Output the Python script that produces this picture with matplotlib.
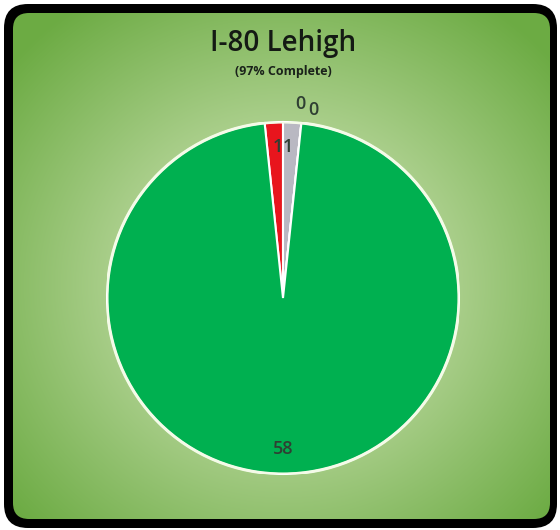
import matplotlib
matplotlib.use("Agg")
import matplotlib.pyplot as plt
from matplotlib.patches import FancyBboxPatch
import numpy as np

# chart data
title = "I-80 Lehigh"
subtitle = "(97% Complete)"
categories = ["Behind", "At Risk", "Not Started", "Other", "Complete"]
values = [1, 1, 0, 0, 58]
colors = ["#e8151d", "#b9b8c2", "#7f7f7f", "#4f81bd", "#00b050"]

W, H = 560, 530
fig = plt.figure(figsize=(W / 100, H / 100), dpi=100)
fig.patch.set_facecolor("white")

# background panel in pixel coords
bg = fig.add_axes([0, 0, 1, 1])
bg.set_xlim(0, W)
bg.set_ylim(H, 0)
bg.axis("off")

outer = FancyBboxPatch((4, 4), 553, 524, boxstyle="round,pad=0,rounding_size=24",
                       facecolor="black", edgecolor="none")
bg.add_patch(outer)
inner = FancyBboxPatch((13, 13), 537, 506, boxstyle="round,pad=0,rounding_size=16",
                       facecolor="none", edgecolor="none")
bg.add_patch(inner)

yy, xx = np.mgrid[0:H, 0:W]
r = np.sqrt((xx - 283) ** 2 + ((yy - 285) * 1.05) ** 2) / 360
r = np.clip(r, 0, 1)[..., None]
c0 = np.array([0xe2, 0xef, 0xcc]) / 255
c1 = np.array([0x6c, 0xab, 0x43]) / 255
grad = c0 * (1 - r) + c1 * r
im = bg.imshow(grad, extent=(0, W, H, 0), zorder=2)
im.set_clip_path(inner)

bg.text(283, 44, title, ha="center", va="center", fontsize=20,
        family="Open Sans", fontweight="semibold", color="#141a14", zorder=5)
bg.text(283, 72, subtitle, ha="center", va="center", fontsize=9,
        family="Open Sans", fontweight="bold", color="#1a221a", zorder=5)

# pie axes: centre (283, 298), radius 176 px
cx, cy, rad = 283, 298, 176
ax = fig.add_axes([(cx - rad) / W, (H - cy - rad) / H, 2 * rad / W, 2 * rad / H])
ax.set_zorder(3)
wedges, texts = ax.pie(values, colors=colors, startangle=96, counterclock=False,
                       labels=[str(v) for v in values], labeldistance=0.86,
                       wedgeprops=dict(edgecolor="white", linewidth=1.5),
                       textprops=dict(fontsize=13, color="#2f3f33", family="Open Sans",
                                      fontweight="semibold"))
ax.set_xlim(-1, 1)
ax.set_ylim(-1, 1)
ax.set_aspect("equal")

# outer white rim
ax.add_patch(plt.Circle((0, 0), 1.0, fill=False, edgecolor="#f4fbe8", linewidth=2.2))

# zero labels sit outside the pie, offset a little; the two 1 labels sit closer together
zero_offsets = [(0.10, 1.10), (0.17, 1.07)]
k = 0
for t, v in zip(texts, values):
    x, y = t.get_position()
    if v == 0:
        t.set_position(zero_offsets[k])
        k += 1
    elif v < 5:
        t.set_position((x * 0.6, y))
    t.set_ha("center")
    t.set_va("center")

fig.savefig("out.png", dpi=100)
